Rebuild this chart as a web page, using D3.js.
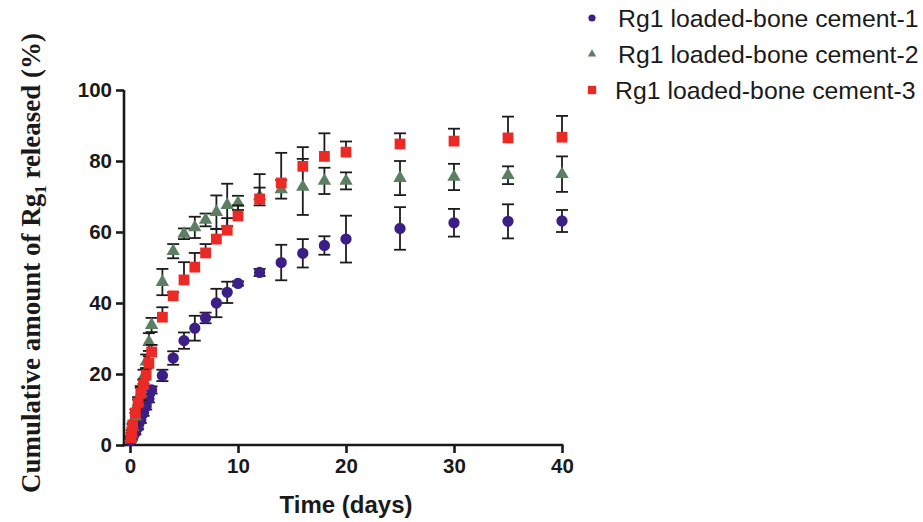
<!DOCTYPE html>
<html>
<head>
<meta charset="utf-8">
<script src="https://cdn.jsdelivr.net/npm/d3@7"></script>
<style>
  html, body { margin: 0; padding: 0; background: #fff; }
  svg { display: block; }
</style>
</head>
<body>
<svg id="chart" width="923" height="522"></svg>
<script>
// Sampling times (days)
const times = [0.083, 0.167, 0.25, 0.5, 0.75, 1, 1.25, 1.5, 1.75, 2,
               3, 4, 5, 6, 7, 8, 9, 10, 12, 14, 16, 18, 20, 25, 30, 35, 40];

// Cumulative release (%) and SD for each bone cement formulation
const cement1 = [1.2, 1.7, 2.5, 3.5, 5, 7, 9, 11, 13, 15.5,
                 19.6, 24.5, 29.4, 32.9, 35.8, 40, 43, 45.5, 48.6, 51.4, 54, 56.2, 58, 61, 62.6, 63, 63.1];
const cement1Sd = [0.3, 0.3, 0.4, 0.5, 0.6, 0.8, 0.8, 1, 1, 1,
                   1.6, 1.9, 2.3, 3.5, 1.5, 4, 3, 0.6, 1, 5, 4, 2.6, 6.6, 6, 3.9, 4.8, 3.1];

const cement2 = [2, 3, 5, 8, 12, 14.6, 19.2, 23.5, 29, 33.8,
                 45.9, 54.6, 59.5, 61.3, 63.4, 65.6, 67.6, 68.2, 70, 72, 72.7, 74.4, 74.4, 75.2, 75.5, 76, 76.3];
const cement2Sd = [0.4, 0.5, 0.8, 1, 1.5, 2, 2, 2, 2.5, 2,
                   3.7, 2, 1.5, 3, 1.8, 4.7, 6, 2, 2.5, 2.6, 7.9, 3.7, 2.4, 4.8, 3.7, 2.5, 5];

const cement3 = [2, 3.7, 5.6, 9, 11.8, 14.6, 17, 19.7, 23, 26.2,
                 36, 42, 46.5, 50.1, 54.1, 58, 60.5, 64.5, 69.3, 73.8, 78.5, 81.3, 82.5, 84.8, 85.6, 86.5, 86.7];
const cement3Sd = [0.3, 0.5, 0.5, 1, 1, 1.5, 1.5, 2, 2, 2,
                   2.8, 1, 5, 4, 2.5, 2.8, 3.4, 3, 7, 8.5, 5.4, 6.5, 3, 3, 3.5, 6, 6];

const seriesNames = ["Rg1 loaded-bone cement-1", "Rg1 loaded-bone cement-2", "Rg1 loaded-bone cement-3"];
const xTicks = [0, 10, 20, 30, 40];
const yTicks = [0, 20, 40, 60, 80, 100];

const series = [
  { name: seriesNames[0], values: cement1, sd: cement1Sd, shape: d3.symbolCircle, color: "#3b1f86", size: 100, legendSize: 40, both: true },
  { name: seriesNames[1], values: cement2, sd: cement2Sd, shape: d3.symbolTriangle, color: "#5c7e63", size: 78, legendSize: 30, both: true },
  { name: seriesNames[2], values: cement3, sd: cement3Sd, shape: d3.symbolSquare, color: "#ec2a25", size: 116, legendSize: 70, both: false }
];

const svg = d3.select("#chart");
const x = d3.scaleLinear().domain([0, 40]).range([130, 562]);
const y = d3.scaleLinear().domain([0, 100]).range([445, 90]);

const axisColor = "#1a1a1a";
const tickFont = "'Liberation Sans', Arial, sans-serif";

// Y axis
const yAxis = svg.append("g").attr("transform", "translate(124,0)")
  .call(d3.axisLeft(y).tickValues(yTicks).tickSize(8).tickPadding(4).tickFormat(d3.format("d")));
// X axis
const xAxis = svg.append("g").attr("transform", "translate(0,445)")
  .call(d3.axisBottom(x).tickValues(xTicks).tickSize(8).tickPadding(5).tickFormat(d3.format("d")));

[yAxis, xAxis].forEach(g => {
  g.select(".domain").remove();
  g.selectAll("line").attr("stroke", axisColor).attr("stroke-width", 2.6);
  g.selectAll("text").attr("fill", axisColor)
    .style("font-family", tickFont).style("font-weight", "bold").style("font-size", "20.5px");
});
svg.append("line").attr("x1", 124).attr("x2", 124).attr("y1", y(100)).attr("y2", 446.3)
  .attr("stroke", axisColor).attr("stroke-width", 2.6);
svg.append("line").attr("x1", 122.7).attr("x2", x(40) + 1.3).attr("y1", 445).attr("y2", 445)
  .attr("stroke", axisColor).attr("stroke-width", 2.6);

// Error bars and markers, one series at a time
const cap = 6;
series.forEach(s => {
  const g = svg.append("g");
  const rows = times.map((t, i) => ({ t, v: s.values[i], sd: s.sd[i] }));
  const eb = g.selectAll("g.eb").data(rows).enter().append("g")
    .attr("stroke", "#1c1c1c").attr("stroke-width", 1.8).attr("fill", "none");
  eb.append("line")
    .attr("x1", d => x(d.t)).attr("x2", d => x(d.t))
    .attr("y1", d => y(d.v + d.sd)).attr("y2", d => y(s.both ? d.v - d.sd : d.v));
  eb.append("line")
    .attr("x1", d => x(d.t) - cap).attr("x2", d => x(d.t) + cap)
    .attr("y1", d => y(d.v + d.sd)).attr("y2", d => y(d.v + d.sd));
  if (s.both) {
    eb.append("line")
      .attr("x1", d => x(d.t) - cap).attr("x2", d => x(d.t) + cap)
      .attr("y1", d => y(d.v - d.sd)).attr("y2", d => y(d.v - d.sd));
  }
  g.selectAll("path.pt").data(rows).enter().append("path")
    .attr("d", d3.symbol().type(s.shape).size(s.size))
    .attr("transform", d => `translate(${x(d.t)},${y(d.v)})`)
    .attr("fill", s.color);
});

// Axis titles
svg.append("text")
  .attr("x", x(20)).attr("y", 513)
  .attr("text-anchor", "middle")
  .style("font-family", tickFont).style("font-weight", "bold").style("font-size", "24px")
  .attr("fill", axisColor)
  .text("Time (days)");

const yTitle = svg.append("text")
  .attr("transform", "translate(40,263) rotate(-90)")
  .attr("text-anchor", "middle")
  .style("font-family", "'Liberation Serif', 'Times New Roman', serif")
  .style("font-weight", "bold").style("font-size", "27px")
  .attr("fill", axisColor);
yTitle.append("tspan").text("Cumulative amount of Rg");
yTitle.append("tspan").attr("dy", 6).style("font-size", "17px").text("1");
yTitle.append("tspan").attr("dy", -6).text(" released (%)");

// Legend
const legend = svg.append("g");
const legendRows = [18, 54, 90];
series.forEach((s, i) => {
  legend.append("path")
    .attr("d", d3.symbol().type(s.shape).size(s.legendSize))
    .attr("transform", `translate(592,${legendRows[i]})`)
    .attr("fill", s.color);
  legend.append("text")
    .attr("x", i === 2 ? 615 : 618).attr("y", legendRows[i] + 8.5)
    .style("font-family", tickFont).style("font-size", "24.8px")
    .attr("fill", "#1a1a1a")
    .text(s.name);
});
</script>
</body>
</html>
